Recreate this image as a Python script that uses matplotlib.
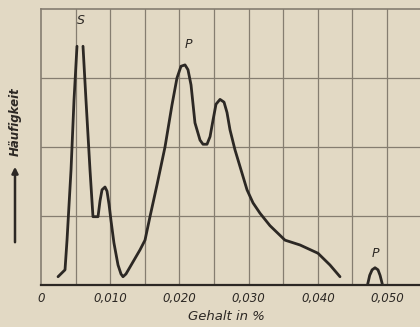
import numpy as np
import matplotlib
matplotlib.use("Agg")
import matplotlib.pyplot as plt

# Gehalt (in %) and relative frequency (grid units)
x_main = [0.00246, 0.00347, 0.00376, 0.00434, 0.00477, 0.00520, np.nan,
          0.00607, 0.00650, 0.00708, 0.00751, 0.00824, 0.00853, 0.00882, 0.00925,
          0.00954, 0.00983, 0.01012, 0.01054, 0.01113, 0.01156, 0.01185, 0.01228,
          0.01286, 0.01431, 0.01503, 0.01575,
          0.01676, 0.01792, 0.01893, 0.01965, 0.02023, 0.02081, 0.02124, 0.02168,
          0.02225, 0.02298, 0.02341, 0.02399, 0.02443, 0.02486, 0.02529, 0.02587,
          0.02645, 0.02688, 0.02731, 0.02803, 0.02890, 0.02977, 0.03064, 0.03165,
          0.03309, 0.03526, 0.03743, 0.04003, 0.04176, 0.04321]
y_main = [0.12, 0.22, 0.65, 1.67, 2.68, 3.46, np.nan,
          3.46, 2.68, 1.67, 0.99, 0.99, 1.22, 1.38, 1.42,
          1.36, 1.17, 0.93, 0.61, 0.29, 0.16, 0.12, 0.16,
          0.26, 0.51, 0.65, 0.99,
          1.45, 2.00, 2.61, 3.00, 3.17, 3.19, 3.12, 2.90,
          2.35, 2.10, 2.04, 2.04, 2.15, 2.39, 2.62, 2.69,
          2.65, 2.50, 2.25, 1.96, 1.67, 1.38, 1.19, 1.04,
          0.86, 0.65, 0.58, 0.46, 0.29, 0.12]
x_small = [0.04725, 0.04750, 0.04785, 0.04827, 0.04870, 0.04900, 0.04928]
y_small = [0.03, 0.14, 0.22, 0.25, 0.22, 0.14, 0.03]

tick_vals = [0.0, 0.010, 0.020, 0.030, 0.040, 0.050]
tick_labels = ["0", "0,010", "0,020", "0,030", "0,040", "0,050"]
peak_labels = [("S", 0.0057, 3.83), ("P", 0.0213, 3.49), ("P", 0.0483, 0.45)]

bg = "#e2d9c4"
ink = "#2c2824"
gridc = "#857d70"

fig = plt.figure(figsize=(4.2, 3.27), dpi=100, facecolor=bg)
ax = fig.add_axes([41/420, 1-285/327, 1-41/420, (285-9)/327])
ax.set_facecolor(bg)
ax.set_xlim(0, 0.05477)
ax.set_ylim(0, 4)

for gx in np.arange(0.005, 0.055, 0.005):
    ax.axvline(gx, color=gridc, lw=0.9, zorder=1)
for gy in [1, 2, 3]:
    ax.axhline(gy, color=gridc, lw=0.9, zorder=1)

ax.plot(x_main, y_main, color=ink, lw=2.0, solid_capstyle="round",
        solid_joinstyle="round", zorder=3)
ax.plot(x_small, y_small, color=ink, lw=2.0, solid_joinstyle="round", zorder=3)

for t, xx, yy in peak_labels:
    ax.text(xx, yy, t, fontsize=9, style="italic", color=ink, ha="center", va="center")

for side in ["left", "top"]:
    ax.spines[side].set_color(gridc)
    ax.spines[side].set_linewidth(1.2)
ax.spines["right"].set_visible(False)
ax.spines["bottom"].set_color(ink)
ax.spines["bottom"].set_linewidth(1.6)

ax.set_xticks(tick_vals)
ax.set_xticklabels(tick_labels, fontsize=8.5, style="italic", color=ink)
ax.tick_params(axis="x", length=0, pad=5)
ax.set_yticks([])

fig.text(226/420, 1-317/327, "Gehalt in %", fontsize=9.5, style="italic",
         color=ink, ha="center", va="center")
fig.text(15/420, 1-122/327, "Häufigkeit", fontsize=8.5, style="italic",
         fontweight="bold", color=ink, rotation=90, ha="center", va="center")
fig.add_artist(matplotlib.patches.FancyArrowPatch(
    (15/420, 1-245/327), (15/420, 1-164/327), transform=fig.transFigure,
    arrowstyle="-|>", mutation_scale=9, color=ink, lw=1.8))

fig.savefig("out.png", dpi=100, facecolor=bg)
